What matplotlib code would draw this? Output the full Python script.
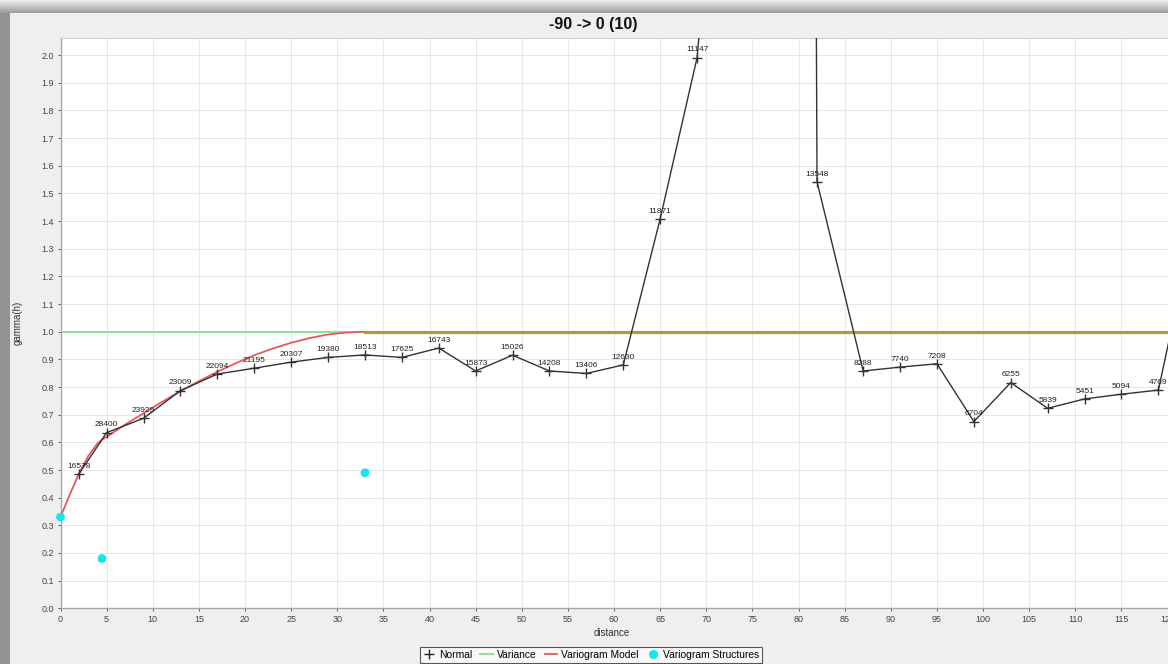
import matplotlib
matplotlib.use('Agg')
import numpy as np
import matplotlib.pyplot as plt
from matplotlib.patches import Rectangle
from matplotlib.lines import Line2D

# ---- data ----
lag_distance = [2, 5, 9, 13, 17, 21, 25, 29, 33, 37, 41, 45, 49, 53, 57, 61, 65, 69,
                73, 77, 81, 82, 87, 91, 95, 99, 103, 107, 111, 115, 119, 123]
gamma_values = [0.486, 0.635, 0.687, 0.787, 0.847, 0.868, 0.890, 0.907, 0.916, 0.907,
                0.941, 0.858, 0.915, 0.858, 0.849, 0.880, 1.408, 1.991,
                3.5, 6.0, 9.0, 1.542, 0.858, 0.872, 0.884, 0.675, 0.816, 0.723,
                0.757, 0.774, 0.789, 1.41]
pair_counts = [16578, 28400, 23929, 23009, 22094, 21195, 20307, 19380, 18513, 17625,
               16743, 15873, 15026, 14208, 13406, 12630, 11871, 11147,
               None, None, None, 13548, 8288, 7740, 7208, 6704, 6255, 5839,
               5451, 5094, 4769, None]

variance_distance = [0, 121]
variance_gamma = [1.0, 1.0]

model_distance = [0, 1, 2, 3, 4, 4.5, 5, 7, 9, 11, 13, 15, 17, 19, 21, 23, 25, 27, 29, 31, 33]
model_gamma = [0.33, 0.411, 0.487, 0.550, 0.596, 0.610, 0.620, 0.664, 0.705, 0.746, 0.785,
               0.821, 0.855, 0.886, 0.915, 0.939, 0.960, 0.977, 0.990, 0.997, 1.0]
sill_distance = [33, 121]
sill_gamma = [1.0, 1.0]

struct_distance = [0, 4.5, 33]
struct_gamma = [0.33, 0.18, 0.49]

x_ticks = list(range(0, 125, 5))
y_ticks = [i / 10 for i in range(0, 21)]

FONT = ['Liberation Sans', 'DejaVu Sans']
plt.rcParams['font.family'] = FONT

W, H = 1168, 664
fig = plt.figure(figsize=(W / 100, H / 100), dpi=100)
fig.patch.set_facecolor('#efefef')

# shadow frame (decoration)
shadow_ax = fig.add_axes([0, 1 - 13 / H, 1, 13 / H], zorder=-5)
shadow_ax.imshow(np.linspace(0.93, 0.62, 13).reshape(-1, 1), cmap='gray', vmin=0, vmax=1,
                 aspect='auto', extent=(0, 1, 0, 1), interpolation='bilinear')
shadow_ax.set_axis_off()
fig.add_artist(Rectangle((0, 0), 10 / W, 1 - 13 / H, transform=fig.transFigure,
                         facecolor='#939393', edgecolor='none', zorder=0))

left_px, top_px, bottom_px = 60.5, 38, 608.3
x_max = 121
px_per_unit = 9.226
right_px = left_px + x_max * px_per_unit
ax = fig.add_axes([left_px / W, 1 - bottom_px / H, (right_px - left_px) / W,
                   (bottom_px - top_px) / H])
ax.set_facecolor('white')
ax.set_xlim(0, x_max)
ax.set_ylim(0, (bottom_px - top_px) / 276.6)

ax.set_xticks(x_ticks)
ax.set_yticks(y_ticks)
ax.set_yticklabels([f'{v:.1f}' for v in y_ticks])
ax.tick_params(axis='both', labelsize=6.5, colors='#444444', length=2.5, width=0.6, pad=2)
ax.grid(True, color='#e4e4e4', linewidth=0.6)
ax.set_axisbelow(True)
for s in ['top', 'right']:
    ax.spines[s].set_color('#d0d0d0')
    ax.spines[s].set_linewidth(0.8)
for s in ['left', 'bottom']:
    ax.spines[s].set_color('#a8a8a8')
    ax.spines[s].set_linewidth(1.0)

# variance
ax.plot(variance_distance, variance_gamma, color='#8ee08e', lw=1.4, zorder=2)
# model
ax.plot(model_distance, model_gamma, color='#e65a5a', lw=1.3, zorder=3)
ax.plot(sill_distance, sill_gamma, color='#a99d3e', lw=2.3, zorder=3)
# normal
ax.plot(lag_distance, gamma_values, color='#333333', lw=1.0, marker='+',
        markersize=7, markeredgewidth=1.0, zorder=4)
for xd, yd, n in zip(lag_distance, gamma_values, pair_counts):
    if n is None:
        continue
    ax.annotate(str(n), (xd, yd), xytext=(0, 3), textcoords='offset points',
                ha='center', va='bottom', fontsize=6, color='#222222', zorder=5,
                annotation_clip=True)
# structures
ax.scatter(struct_distance, struct_gamma, s=40, color='#12e6ee', edgecolors='none',
           zorder=6, clip_on=False)

fig.text(593 / W, 1 - 24 / H, '-90 -> 0 (10)', ha='center', va='center',
         fontsize=11.5, fontweight='bold', color='#111111')
fig.text(612 / W, 1 - 633 / H, 'distance', ha='center', va='center',
         fontsize=7, color='#333333')
fig.text(18 / W, 1 - 323 / H, 'gamma(h)', ha='center', va='center', rotation=90,
         fontsize=7, color='#333333')

handles = [
    Line2D([], [], color='#222222', marker='+', linestyle='none', markersize=7, markeredgewidth=1.0),
    Line2D([], [], color='#8ee08e', lw=1.4),
    Line2D([], [], color='#e65a5a', lw=1.3),
    Line2D([], [], color='#12e6ee', marker='o', linestyle='none', markersize=5.5),
]
labels = ['Normal', 'Variance', 'Variogram Model', 'Variogram Structures']
leg = fig.legend(handles, labels, loc='center', bbox_to_anchor=(591 / W, 1 - 655 / H),
                 ncol=4, fontsize=7.4, frameon=True, fancybox=False, handlelength=1.2,
                 handletextpad=0.4, columnspacing=0.8, borderpad=0.25,
                 edgecolor='#555555', facecolor='#f8f8f8', framealpha=1)
leg.get_frame().set_linewidth(0.8)

fig.savefig('out.png', dpi=100, facecolor=fig.get_facecolor())
